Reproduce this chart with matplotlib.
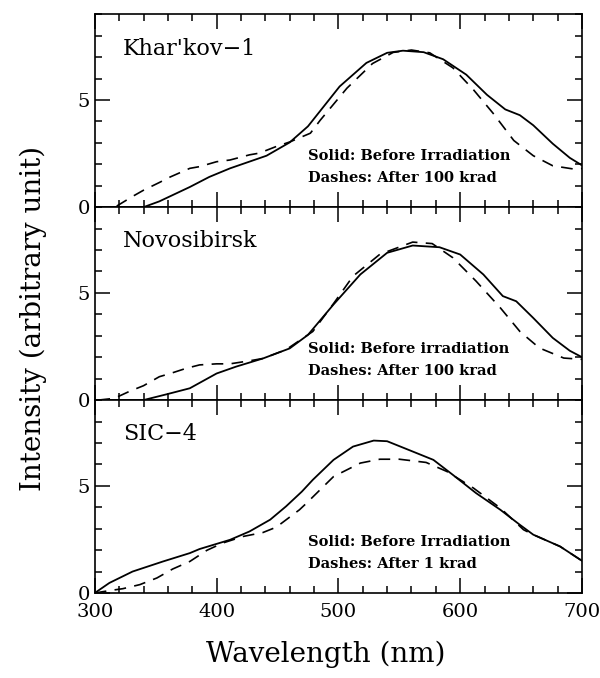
import numpy as np
import matplotlib.pyplot as plt
from matplotlib.ticker import MultipleLocator

plt.rcParams['font.family'] = ['DejaVu Serif']

# Khar'kov-1 spectra (wavelength in nm, intensity in arbitrary unit)
kharkov_before_wl = [300, 340, 353, 378, 394, 411, 441, 460, 475, 501, 523, 540, 553, 570,
                     586, 605, 622, 637, 649, 660, 676, 690, 700]
kharkov_before = [0, 0, 0.27, 0.94, 1.41, 1.81, 2.4, 3.02, 3.77, 5.63, 6.73, 7.2, 7.3, 7.23,
                  6.9, 6.18, 5.24, 4.56, 4.29, 3.82, 2.96, 2.3, 1.95]
kharkov_after_wl = [318, 331, 340, 353, 362, 378, 386, 400, 411, 427, 435, 449, 460, 477, 485,
                    507, 528, 545, 560, 575, 594, 611, 627, 644, 660, 676, 693, 700]
kharkov_after = [0.05, 0.5, 0.79, 1.15, 1.41, 1.81, 1.89, 2.12, 2.2, 2.44, 2.52, 2.83, 3.04, 3.45, 4.05,
                 5.55, 6.7, 7.22, 7.33, 7.2, 6.5, 5.47, 4.38, 3.11, 2.4, 1.93, 1.78, 1.8]

# Novosibirsk spectra
novo_before_wl = [300, 340, 359, 378, 400, 416, 438, 460, 475, 496, 518, 540, 561, 583,
                  600, 619, 635, 646, 660, 676, 690, 700]
novo_before = [0, 0, 0.27, 0.55, 1.24, 1.56, 1.94, 2.41, 3.04, 4.46, 5.86, 6.87, 7.21, 7.13,
               6.79, 5.86, 4.85, 4.61, 3.83, 2.9, 2.3, 2.0]
novo_after_wl = [303, 316, 329, 340, 353, 362, 375, 386, 400, 411, 427, 438, 457, 479, 496,
                 512, 534, 561, 577, 594, 613, 633, 649, 665, 685, 700]
novo_after = [0, 0.08, 0.42, 0.67, 1.09, 1.24, 1.48, 1.64, 1.69, 1.69, 1.83, 1.94, 2.35, 3.2, 4.5,
              5.78, 6.8, 7.37, 7.3, 6.64, 5.55, 4.3, 3.2, 2.43, 1.96, 1.9]

# SIC-4 spectra
sic_before_wl = [300, 312, 331, 356, 378, 386, 411, 427, 444, 457, 470, 479, 496, 512, 529,
                 540, 561, 578, 594, 613, 633, 649, 660, 682, 700]
sic_before = [0, 0.47, 1.0, 1.47, 1.86, 2.05, 2.48, 2.87, 3.42, 4.04, 4.73, 5.28, 6.21, 6.83, 7.11,
              7.08, 6.6, 6.21, 5.51, 4.66, 3.88, 3.18, 2.72, 2.17, 1.5]
sic_after_wl = [300, 312, 323, 337, 351, 364, 378, 392, 405, 422, 438, 449, 468, 474, 496, 518,
                534, 550, 572, 589, 611, 633, 652, 660, 682, 700]
sic_after = [0, 0.11, 0.2, 0.39, 0.7, 1.12, 1.47, 1.99, 2.33, 2.64, 2.82, 3.07, 3.88, 4.2, 5.43, 6.06,
             6.24, 6.24, 6.09, 5.67, 4.89, 3.96, 2.95, 2.72, 2.17, 1.5]

crystals = ["Khar'kov\u22121", "Novosibirsk", "SIC\u22124"]
solid_notes = ["Solid: Before Irradiation", "Solid: Before irradiation", "Solid: Before Irradiation"]
dash_notes = ["Dashes: After 100 krad", "Dashes: After 100 krad", "Dashes: After 1 krad"]

panels = [
    (kharkov_before_wl, kharkov_before, kharkov_after_wl, kharkov_after),
    (novo_before_wl, novo_before, novo_after_wl, novo_after),
    (sic_before_wl, sic_before, sic_after_wl, sic_after),
]

fig, axes = plt.subplots(3, 1, sharex=True, figsize=(6, 6.78), dpi=100)
plt.subplots_adjust(left=0.158, right=0.97, top=0.979, bottom=0.1254, hspace=0)

for i, ax in enumerate(axes):
    wb, yb, wa, ya = panels[i]
    ax.plot(wb, yb, color="k", lw=1.3)
    ax.plot(wa, ya, color="k", lw=1.2, dashes=(7, 5))

    ax.set_xlim(300, 700)
    ax.set_ylim(0, 9)
    ax.set_yticks([0, 5])
    ax.yaxis.set_minor_locator(MultipleLocator(1))
    ax.xaxis.set_major_locator(MultipleLocator(100))
    ax.xaxis.set_minor_locator(MultipleLocator(20))
    ax.tick_params(which="both", direction="in", top=True, right=True, width=1.1, labelsize=14)
    ax.tick_params(which="major", length=11)
    ax.tick_params(which="minor", length=5)
    ax.tick_params(axis="x", pad=7)
    for s in ax.spines.values():
        s.set_linewidth(1.2)

    # crystal name and legend notes
    ax.text(323, 7.4, crystals[i], fontsize=16, va="center")
    ax.text(475, 2.4, solid_notes[i], fontsize=10.5, fontweight="bold", va="center")
    ax.text(475, 1.37, dash_notes[i], fontsize=10.5, fontweight="bold", va="center")

fig.text(0.055, 0.53, "Intensity (arbitrary unit)", rotation=90, fontsize=20,
         ha="center", va="center")
fig.text(0.543, 0.035, "Wavelength (nm)", fontsize=20, ha="center", va="center")

plt.savefig("out.png", dpi=100)
